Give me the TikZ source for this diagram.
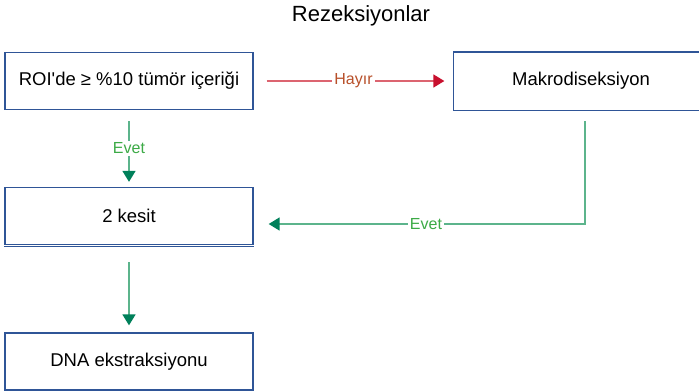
\documentclass[tikz,border=0pt]{standalone}
\usepackage{fontspec}
\setmainfont{Liberation Sans}
\usetikzlibrary{arrows.meta}
\definecolor{boxblue}{RGB}{47,85,151}
\definecolor{nored}{RGB}{220,100,112}
\definecolor{noredtip}{RGB}{200,16,46}
\definecolor{nolabel}{RGB}{184,80,42}
\definecolor{yesgreen}{RGB}{92,180,140}
\definecolor{yesgreentip}{RGB}{0,128,90}
\definecolor{yeslabel}{RGB}{60,170,70}
\begin{document}
\begin{tikzpicture}[x=1pt,y=-1pt,
    boxline/.style={draw=boxblue, line width=1.3pt},
    box/.style={boxline, minimum width=248pt, minimum height=57pt,
      inner sep=0pt, font=\fontsize{18.5}{22}\selectfont},
    noarrow/.style={draw=nored, line width=1.6pt,
      -{Triangle[length=11pt,width=13pt,color=noredtip,fill=noredtip]}},
    yesarrow/.style={draw=yesgreen, line width=1.6pt,
      -{Triangle[length=11pt,width=13pt,color=yesgreentip,fill=yesgreentip]}},
    lbl/.style={fill=white, inner sep=2pt, font=\fontsize{16}{19}\selectfont}]
    \useasboundingbox (0,0) rectangle (699,391);
    \node (T) at (361,16) {\fontsize{22}{26}\selectfont Rezeksiyonlar};
    \node[box] (A0_0) at (129,81) {ROI\textquotesingle de ≥ \%10 tümör içeriği};
    \node[box, draw=none, minimum width=254pt] (A0_1) at (581,81) {Makrodiseksiyon};
    \node[box] (A1_0) at (129,216) {2 kesit};
    \node[box] (A2_0) at (129,361.5) {DNA ekstraksiyonu};
    % box is cut by the right edge of the page
    \draw[boxline] (A0_1.north west -| 699,0) -- (A0_1.north west) -- (A0_1.south west) -- (A0_1.south west -| 699,0);
    \draw[boxline] ([yshift=-1.3pt]A1_0.south west) -- ([yshift=-1.3pt]A1_0.south east);
    \path (A0_0) edge [noarrow, shorten <=13pt, shorten >=9pt]
      node [lbl, text=nolabel] {Hayır} (A0_1);
    \path (A0_0) edge [yesarrow, shorten <=11pt, shorten >=5pt]
      node [lbl, text=yeslabel] {Evet} (A1_0);
    \draw[yesarrow, shorten <=11pt, shorten >=15pt] ([xshift=4pt]A0_1.south)
      |- node [lbl, text=yeslabel, pos=.74] {Evet} ([yshift=-8pt]A1_0.east);
    \path (A1_0) edge [yesarrow, shorten <=17pt, shorten >=7pt] (A2_0);
\end{tikzpicture}
\end{document}
